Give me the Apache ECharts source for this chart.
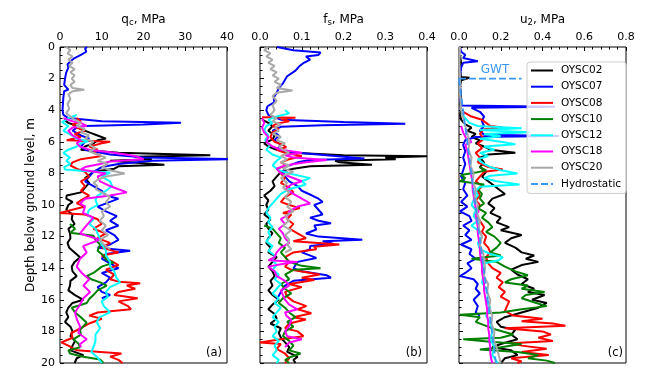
<!DOCTYPE html>
<html>
<head>
<meta charset="utf-8">
<script src="https://cdn.jsdelivr.net/npm/echarts@6/dist/echarts.min.js"></script>
<style>
  html, body { margin: 0; padding: 0; background: #fff; }
  #chart { width: 663px; height: 380px; }
</style>
</head>
<body>
<div id="chart"></div>
<script>
// data, every profile is [depth (m), value]
const sondes = ['OYSC02', 'OYSC07', 'OYSC08', 'OYSC10', 'OYSC12', 'OYSC18', 'OYSC20']
const colors = ['#000000', '#0000ff', '#ff0000', '#008000', '#00ffff', '#ff00ff', '#a9a9a9']
const depthTicks = [0, 2, 4, 6, 8, 10, 12, 14, 16, 18, 20]

// cone resistance qc, MPa
const qc02 = [[4.6,1],[4.8,2],[5.0,4],[5.2,5],[5.4,7],[5.6,9],[5.8,11],[5.9,9],[6.1,8],[6.3,6],[6.5,5],[6.7,14],[6.85,36],[6.95,18],[7.1,22],[7.2,12],[7.35,20],[7.45,25],[7.55,14],[7.7,13],[7.9,8],[8.1,7],[8.3,6],[8.6,7],[8.9,6],[9.2,5],[9.4,1.6],[9.6,1.5],[9.8,3],[10.0,2],[10.3,1.5],[10.6,3],[10.9,2.8],[11.2,3.5],[11.5,2],[11.8,2.4],[12.1,2.5],[12.4,1.8],[12.7,2.2],[13.0,3.5],[13.3,4.8],[13.6,3.5],[13.9,2.8],[14.2,3],[14.5,4],[14.8,2.5],[15.1,2.4],[15.4,2],[15.7,3.6],[16.0,5.6],[16.2,3],[16.5,2],[16.8,1.5],[17.1,2],[17.4,1.2],[17.7,2.5],[18.0,3],[18.3,2.5],[18.6,3.6],[18.9,3],[19.2,2.5],[19.5,5.6],[19.7,4],[20.0,3.5]]
const qc07 = [[0,6.5],[0.1,6],[0.3,6.3],[0.5,5],[0.7,3.5],[0.9,2.5],[1.1,1.8],[1.3,2],[1.6,1.5],[2.0,1.2],[2.4,1],[2.7,2],[2.8,1],[3.2,0.8],[3.6,0.7],[4.0,0.6],[4.3,0.8],[4.5,2],[4.7,10],[4.8,29],[4.9,20],[5.0,6],[5.1,4],[5.3,3],[5.6,5],[5.8,7],[6.0,6],[6.3,5],[6.5,6],[6.8,12],[7.0,20],[7.1,42],[7.2,22],[7.4,14],[7.6,10],[7.9,8],[8.2,7],[8.5,6],[8.8,8],[9.1,10],[9.4,11],[9.6,14],[9.8,12],[10.1,9],[10.4,11],[10.7,13.6],[11.0,12],[11.3,14],[11.6,11],[11.9,13],[12.2,14],[12.5,12],[12.7,9],[12.9,16.8],[13.1,11],[13.4,10],[13.7,12],[14.0,14],[14.3,10],[14.6,12],[14.9,11],[15.2,9],[15.5,10],[15.7,12],[15.9,10]]
const qc08 = [[4.5,4],[4.7,5],[4.9,3],[5.1,4],[5.3,6],[5.5,3.5],[5.7,5],[5.9,1.6],[6.0,12],[6.1,10],[6.3,7],[6.5,9],[6.7,8],[6.9,10],[7.1,5],[7.3,3],[7.5,2.5],[7.7,4],[7.9,6],[8.2,7],[8.5,5],[8.8,6],[9.1,5],[9.4,7],[9.7,5],[9.9,4],[10.1,6],[10.5,0],[10.6,6],[10.9,9],[11.2,10],[11.5,8],[11.8,11],[12.1,9],[12.4,12],[12.7,10],[13.0,14],[13.2,10],[13.5,12],[13.8,14],[14.1,11],[14.4,13],[14.7,12],[14.85,14],[14.95,19.2],[15.1,16],[15.3,18],[15.5,14],[15.7,13],[15.9,18.6],[16.1,14],[16.4,16.3],[16.6,17],[16.8,9],[17.0,7],[17.2,10],[17.5,7],[17.8,5],[18.1,2.7],[18.4,3],[18.7,0.3],[18.9,2],[19.2,4],[19.4,14.7],[19.6,12],[19.8,14],[20,15]]
const qc10 = [[11.2,2.4],[11.5,3.6],[11.75,2.5],[11.95,8],[12.2,8.5],[12.5,9.6],[12.9,9],[13.2,10.4],[13.45,11],[13.65,12.8],[13.9,10],[14.3,8],[14.5,6.4],[14.7,7.5],[14.9,9.6],[15.1,11.2],[15.4,9],[15.7,8],[15.95,7],[16.2,6.4],[16.5,2.8],[16.8,3.6],[17.1,5],[17.45,6.4],[17.7,5.5],[17.9,4.8],[18.2,5],[18.5,3.2],[18.8,4.5],[19.0,4.8],[19.2,2],[19.4,2.4],[19.6,5.6],[19.78,9.6],[20,10.4]]
const qc12 = [[4.3,4],[4.5,2],[4.75,0.5],[5.0,2],[5.3,0.8],[5.6,2.8],[5.8,4],[5.96,6.8],[6.1,5],[6.3,4],[6.5,2],[6.7,0.8],[7.0,2.4],[7.2,1.5],[7.4,2.5],[7.6,1],[7.75,1.2],[7.85,6],[7.95,12],[8.2,10],[8.5,12],[8.8,12.5],[9.1,11],[9.4,9],[9.7,8.5],[10.0,9],[10.3,7],[10.6,6.5],[10.9,8],[11.2,7],[11.5,8.5],[11.8,9],[12.1,9.5],[12.5,10],[12.9,11],[13.2,11],[13.6,12],[13.9,12],[14.2,13],[14.6,13.5],[14.9,14.4],[15.2,12],[15.5,11],[15.8,11.5],[16.1,10],[16.4,10.5],[16.8,12],[17.1,9.5],[17.4,8.8],[17.8,9.6],[18.2,8.5],[18.6,8.5],[19.0,8],[19.3,7.5],[19.6,8.8],[20,10]]
const qc18 = [[4.5,0.8],[4.7,3],[4.8,5],[5.0,6.4],[5.1,3],[5.3,2],[5.6,3],[5.9,5],[6.1,4],[6.3,4.8],[6.5,7],[6.7,13],[6.9,18],[7.1,20],[7.25,12],[7.4,9.6],[7.6,6],[7.75,5],[8.0,11],[8.2,9],[8.5,9.6],[8.8,12],[9.0,14],[9.2,16],[9.4,12],[9.6,6],[9.9,4.8],[10.1,6],[10.5,5.5],[10.8,8],[11.1,7],[11.4,6],[11.8,4.8],[12.2,9.5],[12.6,5.5],[13.0,6.4],[13.4,4.8],[13.9,4],[14.3,5.2],[14.7,7],[15.1,5.6],[15.5,7.2],[15.9,5.6],[16.3,4.8],[16.8,3.6],[17.2,4],[17.7,4.8],[18.1,4.4],[18.5,6.4],[18.8,4.8],[19.0,5]]
const qc20 = [[0,1.5],[0.2,2.5],[0.4,1.8],[0.6,3],[0.8,2],[1.0,3],[1.2,2.2],[1.4,3.5],[1.6,2.5],[1.8,3.5],[2.0,2.8],[2.2,3.5],[2.4,2.5],[2.6,3],[2.7,5.8],[2.8,3],[3.0,2],[3.3,2.5],[3.6,1.8],[3.9,2.2],[4.2,1.5],[4.4,2.5],[4.6,3.5],[4.8,5],[5.0,4],[5.2,6],[5.4,5],[5.6,7],[5.8,6],[6.0,8],[6.2,7],[6.4,8.5],[6.6,7],[6.8,9],[7.0,11],[7.2,9],[7.4,11.5],[7.6,10],[7.8,12],[8.0,15.5],[8.2,11],[8.4,9],[8.6,8],[8.8,9],[9.0,8.5],[9.2,10],[9.5,12],[9.8,11],[10.1,12],[10.4,10],[10.7,10.5],[11.0,9.5],[11.3,11],[11.6,10],[11.9,11.5],[12.2,9.5],[12.5,10.5],[12.8,12]]

// sleeve friction fs, MPa
const fs02 = [[4.6,0.005],[4.8,0.02],[5.0,0.03],[5.3,0.02],[5.6,0.035],[5.85,0.03],[6.1,0.01],[6.3,0.02],[6.5,0.04],[6.7,0.08],[6.85,0.2],[6.92,0.4],[7.0,0.3],[7.1,0.325],[7.2,0.18],[7.3,0.19],[7.45,0.268],[7.55,0.12],[7.7,0.08],[7.9,0.05],[8.2,0.04],[8.5,0.03],[8.8,0.035],[9.1,0.025],[9.4,0.01],[9.7,0.02],[10.0,0.015],[10.3,0.02],[10.6,0.01],[10.9,0.025],[11.2,0.015],[11.5,0.02],[11.8,0.03],[12.1,0.02],[12.4,0.015],[12.7,0.025],[13.0,0.02],[13.3,0.04],[13.6,0.03],[13.9,0.02],[14.2,0.03],[14.5,0.035],[14.8,0.025],[15.1,0.03],[15.4,0.02],[15.7,0.03],[16.0,0.045],[16.3,0.03],[16.6,0.02],[16.9,0.035],[17.2,0.04],[17.5,0.025],[17.8,0.05],[18.1,0.045],[18.4,0.05],[18.7,0.06],[19.0,0.07],[19.3,0.065],[19.6,0.09],[19.8,0.08],[20,0.085]]
const fs07 = [[0,0.041],[0.2,0.08],[0.35,0.145],[0.5,0.14],[0.6,0.11],[0.8,0.12],[1.0,0.105],[1.2,0.095],[1.5,0.085],[1.85,0.065],[2.3,0.055],[2.6,0.045],[2.9,0.04],[3.2,0.033],[3.5,0.034],[3.75,0.018],[4.0,0.015],[4.3,0.02],[4.6,0.05],[4.75,0.2],[4.85,0.348],[4.95,0.15],[5.05,0.05],[5.3,0.03],[5.6,0.045],[5.9,0.035],[6.2,0.05],[6.5,0.04],[6.7,0.09],[6.9,0.18],[7.05,0.25],[7.15,0.12],[7.3,0.09],[7.6,0.06],[7.9,0.055],[8.2,0.06],[8.5,0.07],[8.8,0.09],[9.1,0.1],[9.4,0.125],[9.6,0.14],[9.8,0.15],[10.0,0.13],[10.3,0.14],[10.6,0.15],[10.8,0.12],[11.0,0.14],[11.15,0.17],[11.3,0.13],[11.55,0.135],[11.8,0.11],[12.0,0.14],[12.2,0.245],[12.3,0.15],[12.45,0.175],[12.6,0.12],[12.8,0.12],[13.0,0.1],[13.35,0.135],[13.6,0.09],[14.0,0.08],[14.2,0.1],[14.45,0.16],[14.6,0.17],[14.8,0.08],[15.1,0.06],[15.5,0.05],[16.0,0.04]]
const fs08 = [[4.45,0.005],[4.47,0.085],[4.55,0.05],[4.7,0.07],[4.85,0.04],[5.0,0.03],[5.2,0.045],[5.4,0.03],[5.7,0.025],[6.0,0.035],[6.2,0.055],[6.35,0.063],[6.5,0.04],[6.7,0.06],[6.9,0.1],[7.1,0.07],[7.3,0.05],[7.5,0.065],[7.7,0.04],[8.0,0.05],[8.3,0.06],[8.6,0.05],[8.9,0.07],[9.2,0.08],[9.5,0.06],[9.8,0.05],[10.0,0.07],[10.2,0.095],[10.5,0.055],[10.6,0.075],[10.9,0.065],[11.2,0.08],[11.5,0.07],[11.8,0.09],[12.1,0.11],[12.3,0.08],[12.5,0.19],[12.65,0.13],[12.8,0.135],[13.0,0.08],[13.3,0.06],[13.6,0.07],[13.9,0.06],[14.1,0.075],[14.4,0.143],[14.6,0.1],[14.75,0.13],[15.0,0.07],[15.2,0.1],[15.5,0.06],[15.8,0.065],[16.1,0.08],[16.4,0.111],[16.6,0.09],[16.85,0.123],[17.1,0.08],[17.25,0.11],[17.5,0.07],[17.8,0.06],[18.0,0.09],[18.3,0.104],[18.5,0.05],[18.7,0.0],[18.8,0.05],[19.1,0.04],[19.4,0.06],[19.7,0.07],[20,0.06]]
const fs10 = [[11.3,0.01],[11.5,0.03],[11.8,0.04],[12.1,0.05],[12.4,0.045],[12.7,0.06],[13.0,0.05],[13.3,0.06],[13.6,0.07],[13.85,0.1],[14.0,0.145],[14.1,0.08],[14.4,0.06],[14.7,0.07],[15.0,0.05],[15.3,0.06],[15.6,0.075],[15.9,0.055],[16.2,0.045],[16.5,0.06],[16.8,0.07],[17.1,0.085],[17.4,0.065],[17.7,0.08],[18.0,0.06],[18.3,0.055],[18.6,0.07],[18.9,0.08],[19.2,0.07],[19.4,0.097],[19.6,0.075],[19.8,0.06],[20,0.07]]
const fs12 = [[4.0,0.06],[4.2,0.07],[4.4,0.04],[4.6,0.02],[4.8,0.03],[5.0,0.015],[5.3,0.01],[5.6,0.02],[5.9,0.012],[6.2,0.025],[6.5,0.015],[6.8,0.03],[7.0,0.05],[7.2,0.04],[7.5,0.03],[7.8,0.045],[8.0,0.07],[8.3,0.12],[8.5,0.1],[8.7,0.11],[9.0,0.07],[9.3,0.05],[9.6,0.04],[9.9,0.03],[10.2,0.02],[10.5,0.015],[10.8,0.025],[11.1,0.02],[11.4,0.03],[11.7,0.02],[12.0,0.025],[12.3,0.015],[12.6,0.03],[12.9,0.02],[13.2,0.035],[13.5,0.03],[13.8,0.04],[14.1,0.03],[14.4,0.045],[14.7,0.035],[15.0,0.05],[15.3,0.04],[15.6,0.03],[15.9,0.045],[16.2,0.035],[16.5,0.05],[16.8,0.04],[17.1,0.03],[17.4,0.045],[17.7,0.035],[18.0,0.04],[18.3,0.03],[18.6,0.045],[18.9,0.035],[19.2,0.04],[19.5,0.03],[19.8,0.045],[20,0.04]]
const fs18 = [[4.5,0.005],[4.8,0.01],[5.1,0.005],[5.4,0.01],[5.7,0.02],[6.0,0.015],[6.3,0.03],[6.5,0.05],[6.7,0.1],[6.85,0.06],[7.0,0.08],[7.15,0.16],[7.3,0.11],[7.5,0.06],[7.7,0.04],[8.0,0.05],[8.2,0.07],[8.5,0.1],[8.7,0.075],[9.0,0.06],[9.3,0.08],[9.6,0.1],[9.9,0.12],[10.1,0.09],[10.4,0.07],[10.6,0.07],[10.9,0.05],[11.2,0.06],[11.5,0.045],[11.8,0.055],[12.1,0.06],[12.4,0.07],[12.7,0.05],[13.0,0.04],[13.3,0.035],[13.5,0.02],[13.6,0.09],[13.75,0.05],[13.9,0.02],[14.2,0.035],[14.5,0.04],[14.8,0.06],[15.1,0.07],[15.4,0.05],[15.7,0.055],[16.0,0.06],[16.3,0.07],[16.6,0.09],[16.8,0.06],[17.0,0.063],[17.3,0.075],[17.65,0.07],[18.0,0.06],[18.3,0.065],[18.5,0.1],[18.7,0.07],[19.0,0.06]]
const fs20 = [[0,0.02],[0.2,0.01],[0.4,0.025],[0.6,0.015],[0.8,0.03],[1.0,0.02],[1.2,0.035],[1.4,0.025],[1.6,0.04],[1.8,0.03],[2.0,0.045],[2.2,0.035],[2.4,0.05],[2.6,0.04],[2.75,0.078],[2.9,0.04],[3.1,0.03],[3.4,0.04],[3.7,0.03],[4.0,0.035],[4.3,0.025],[4.5,0.04],[4.7,0.03],[4.9,0.05],[5.1,0.035],[5.3,0.045],[5.5,0.03],[5.7,0.05],[5.9,0.04],[6.1,0.06],[6.3,0.045],[6.5,0.055],[6.7,0.07],[6.9,0.05],[7.1,0.065],[7.3,0.05],[7.5,0.07],[7.7,0.055],[7.9,0.08],[8.1,0.06],[8.3,0.05],[8.6,0.065],[8.9,0.055],[9.2,0.07],[9.5,0.06],[9.8,0.075],[10.1,0.065],[10.4,0.08],[10.7,0.06],[11.0,0.07],[11.3,0.055],[11.6,0.075],[11.9,0.06],[12.2,0.07],[12.5,0.065],[12.8,0.075],[13.0,0.06]]

// pore pressure u2, MPa
const u02 = [[0.5,0.005],[1.0,0.01],[1.5,0.005],[1.9,0.01],[1.95,0.05],[2.05,0.05],[2.1,0.01],[2.5,0.005],[3.0,0.01],[3.5,0.005],[4.0,0.01],[4.3,0.005],[4.6,0.01],[4.9,0.03],[5.1,0.06],[5.3,0.04],[5.5,0.08],[5.7,0.06],[5.9,0.1],[6.1,0.08],[6.3,0.12],[6.5,0.15],[6.7,0.27],[6.8,0.14],[7.0,0.1],[7.3,0.12],[7.6,0.1],[7.9,0.13],[8.2,0.11],[8.5,0.14],[8.8,0.17],[9.0,0.19],[9.3,0.22],[9.6,0.16],[9.9,0.14],[10.2,0.17],[10.5,0.15],[10.8,0.2],[11.1,0.18],[11.4,0.24],[11.6,0.2],[11.9,0.3],[12.1,0.25],[12.4,0.22],[12.7,0.27],[13.0,0.3],[13.2,0.36],[13.4,0.32],[13.6,0.38],[13.8,0.3],[14.1,0.25],[14.4,0.28],[14.7,0.33],[15.0,0.3],[15.3,0.36],[15.5,0.33],[15.7,0.41],[16.0,0.35],[16.2,0.42],[16.5,0.38],[16.8,0.3],[17.1,0.22],[17.4,0.18],[17.7,0.2],[17.9,0.27],[18.2,0.25],[18.5,0.28],[18.8,0.2],[19.0,0.16],[19.2,0.25],[19.5,0.28],[19.7,0.22],[20,0.2]]
const u07 = [[0,0.005],[0.3,0.01],[0.5,0.03],[0.7,0.02],[0.9,0.09],[1.0,0.02],[1.3,0.01],[1.8,0.005],[2.5,0.005],[3.2,0.005],[3.7,0.01],[3.78,0.46],[3.85,0.06],[4.1,0.1],[4.4,0.12],[4.7,0.11],[5.0,0.12],[5.3,0.1],[5.55,0.12],[5.63,0.48],[5.7,0.08],[5.9,0.03],[6.2,0.02],[6.6,0.03],[7.0,0.02],[7.4,0.03],[7.8,0.02],[8.2,0.01],[8.6,0.03],[9.0,0.02],[9.4,0.04],[9.8,0.01],[10.1,0.04],[10.4,0.005],[10.7,0.05],[11.0,0.06],[11.3,0.02],[11.6,0.05],[11.9,0.03],[12.2,0.06],[12.5,0.01],[12.8,0.06],[13.1,0.05],[13.4,0.08],[13.7,0.04],[14.0,0.06],[14.3,0.03],[14.5,0.005],[14.7,0.07],[15.0,0.09],[15.3,0.08],[15.6,0.1],[16.0,0.07],[16.4,0.09],[16.8,0.08],[17.0,0.1]]
const u08 = [[4.1,0.02],[4.4,0.06],[4.6,0.11],[4.8,0.13],[5.0,0.15],[5.1,0.21],[5.2,0.12],[5.5,0.1],[5.8,0.12],[6.1,0.09],[6.4,0.11],[6.7,0.08],[7.0,0.1],[7.3,0.09],[7.6,0.14],[7.75,0.21],[7.9,0.12],[8.2,0.1],[8.5,0.08],[8.8,0.11],[9.1,0.09],[9.4,0.1],[9.7,0.08],[10.0,0.1],[10.3,0.08],[10.7,0.09],[11.0,0.1],[11.4,0.12],[11.7,0.11],[12.0,0.13],[12.4,0.12],[12.7,0.14],[13.0,0.15],[13.3,0.13],[13.7,0.14],[14.0,0.16],[14.3,0.2],[14.6,0.18],[14.9,0.21],[15.2,0.19],[15.5,0.22],[15.8,0.2],[16.1,0.24],[16.4,0.23],[16.7,0.22],[17.0,0.26],[17.2,0.4],[17.35,0.3],[17.5,0.45],[17.65,0.51],[17.8,0.22],[18.0,0.4],[18.2,0.44],[18.4,0.38],[18.6,0.45],[18.75,0.25],[18.9,0.3],[19.1,0.42],[19.3,0.3],[19.5,0.43],[19.7,0.25],[19.9,0.3],[20,0.28]]
const u10 = [[7.6,0.1],[7.8,0.13],[7.95,0.08],[8.1,0.01],[8.3,0.03],[8.5,0.005],[8.7,0.12],[9.0,0.09],[9.3,0.11],[9.6,0.1],[9.9,0.12],[10.2,0.09],[10.5,0.13],[10.8,0.11],[11.1,0.14],[11.4,0.16],[11.7,0.13],[12.0,0.17],[12.4,0.2],[12.7,0.18],[13.0,0.15],[13.2,0.2],[13.4,0.06],[13.6,0.18],[13.9,0.22],[14.2,0.27],[14.45,0.33],[14.7,0.25],[14.9,0.22],[15.1,0.33],[15.3,0.3],[15.5,0.41],[15.7,0.32],[15.9,0.3],[16.2,0.37],[16.4,0.42],[16.6,0.3],[16.8,0.2],[16.95,0.005],[17.1,0.1],[17.4,0.08],[17.6,0.12],[17.9,0.18],[18.2,0.26],[18.4,0.2],[18.5,0.02],[18.65,0.15],[18.8,0.3],[19.0,0.2],[19.15,0.1],[19.3,0.28],[19.5,0.38],[19.7,0.33],[19.85,0.42],[20,0.46]]
const u12 = [[4.2,0.01],[4.5,0.03],[4.8,0.05],[5.0,0.09],[5.15,0.3],[5.25,0.1],[5.4,0.34],[5.5,0.12],[5.65,0.2],[5.8,0.1],[6.0,0.2],[6.15,0.27],[6.3,0.12],[6.5,0.17],[6.7,0.1],[6.9,0.14],[7.1,0.09],[7.4,0.12],[7.6,0.15],[7.8,0.2],[8.0,0.28],[8.15,0.15],[8.3,0.12],[8.5,0.18],[8.7,0.29],[8.85,0.1],[9.1,0.08],[9.4,0.09],[9.7,0.07],[10.0,0.06],[10.3,0.08],[10.7,0.07],[11.0,0.09],[11.3,0.06],[11.7,0.1],[12.0,0.11],[12.4,0.09],[12.8,0.1],[13.1,0.15],[13.3,0.21],[13.5,0.19],[13.7,0.12],[14.0,0.11],[14.4,0.12],[14.9,0.11],[15.3,0.13],[15.7,0.14],[16.1,0.13],[16.5,0.15],[17.0,0.13],[17.5,0.15],[18.0,0.16],[18.5,0.15],[19.0,0.17],[19.5,0.16],[20,0.185]]
const u18 = [[5.0,0.01],[5.4,0.02],[5.8,0.035],[6.0,0.06],[6.2,0.03],[6.6,0.04],[7.0,0.045],[7.4,0.05],[7.8,0.055],[8.2,0.06],[8.6,0.065],[9.0,0.065],[9.4,0.07],[9.8,0.075],[10.2,0.08],[10.4,0.095],[10.6,0.08],[11.0,0.085],[11.4,0.09],[11.8,0.09],[12.2,0.095],[12.6,0.1],[13.0,0.1],[13.4,0.105],[13.8,0.11],[14.2,0.11],[14.6,0.115],[15.0,0.12],[15.4,0.12],[15.8,0.125],[16.2,0.13],[16.6,0.135],[17.0,0.135],[17.4,0.14],[17.8,0.14],[18.2,0.145],[18.6,0.145],[19.0,0.15],[19.4,0.15],[19.8,0.155],[20,0.16]]
const u20 = [[0,0.005],[1,0.002],[2,0.005],[3,0.005],[4,0.01],[4.5,0.02],[5,0.03],[5.5,0.04],[6,0.05],[6.5,0.045],[7,0.06],[7.5,0.055],[8,0.07],[8.5,0.065],[9,0.08],[9.5,0.075],[10,0.09],[10.5,0.085],[11,0.1],[11.5,0.095],[12,0.11],[12.5,0.1],[13,0.115],[13.5,0.12],[14,0.125],[14.5,0.12],[15,0.14],[15.5,0.135],[16,0.15],[16.5,0.145],[17,0.16],[17.5,0.155],[18,0.17],[18.5,0.165],[19,0.18],[19.5,0.19],[20,0.2]]

// groundwater table and hydrostatic line
const hydroDepth = [2, 20]
const hydroU = [0, 0.177]
const gwtDepth = [2, 2]
const gwtU = [0, 0.3]

const qcAll = [qc02, qc07, qc08, qc10, qc12, qc18, qc20]
const fsAll = [fs02, fs07, fs08, fs10, fs12, fs18, fs20]
const uAll = [u02, u07, u08, u10, u12, u18, u20]

const font = 'DejaVu Sans'
const blueDash = '#3a98f5'
const grids = [
  { left: 60, top: 47, width: 167, height: 316 },
  { left: 260, top: 47, width: 167, height: 316 },
  { left: 459, top: 47, width: 167, height: 316 }
]
const xCfg = [
  { max: 40, interval: 10, fmt: v => v, name: '{a|q}{s|c}{a|, MPa}' },
  { max: 0.4, interval: 0.1, fmt: v => v.toFixed(1), name: '{a|f}{s|s}{a|, MPa}' },
  { max: 0.8, interval: 0.2, fmt: v => v.toFixed(1), name: '{a|u}{s|2}{a|, MPa}' }
]

const toXY = arr => arr.map(p => [p[1], p[0]])

var series = []
;[qcAll, fsAll, uAll].forEach((panel, g) => {
  panel.forEach((d, i) => {
    series.push({
      name: sondes[i], type: 'line', xAxisIndex: g, yAxisIndex: g,
      data: toXY(d), symbol: 'none', clip: true,
      lineStyle: { color: colors[i], width: 2 }, itemStyle: { color: colors[i] }
    })
  })
})
series.push({
  name: 'Hydrostatic', type: 'line', xAxisIndex: 2, yAxisIndex: 2, symbol: 'none',
  data: hydroDepth.map((d, i) => [hydroU[i], d]),
  lineStyle: { color: blueDash, width: 1.8, type: [7, 3] }, itemStyle: { color: blueDash }
})
series.push({
  name: 'GWT', type: 'line', xAxisIndex: 2, yAxisIndex: 2, symbol: 'none',
  data: gwtDepth.map((d, i) => [gwtU[i], d]),
  lineStyle: { color: blueDash, width: 1.8, type: [7, 3] }, itemStyle: { color: blueDash }
})

const option = {
  animation: false,
  textStyle: { fontFamily: font, color: '#000' },
  grid: grids.map(g => ({ ...g, show: true, borderColor: '#000', borderWidth: 1, backgroundColor: 'transparent' })),
  xAxis: xCfg.map((c, g) => ({
    type: 'value', gridIndex: g, position: 'top', min: 0, max: c.max, interval: c.interval,
    name: c.name, nameLocation: 'middle', nameGap: 19,
    nameTextStyle: { rich: { a: { fontFamily: font, fontSize: 12, color: '#000' }, s: { fontFamily: font, fontSize: 8.5, color: '#000', verticalAlign: 'bottom', padding: [5, 0, 0, 0] } } },
    axisLine: { show: false },
    axisTick: { show: true, inside: true, length: 4, lineStyle: { color: '#000' } },
    minorTick: { show: true, splitNumber: 5, length: 2.5, lineStyle: { color: '#000' } },
    axisLabel: { margin: 4, fontSize: 11, color: '#000', fontFamily: font, formatter: c.fmt },
    splitLine: { show: false }
  })),
  yAxis: grids.map((gr, g) => ({
    type: 'value', gridIndex: g, inverse: true, min: 0, max: 20, interval: 2,
    name: g == 0 ? 'Depth below ground level, m' : '', nameLocation: 'middle', nameGap: 23,
    nameTextStyle: { fontSize: 12, color: '#000', fontFamily: font },
    axisLine: { show: false },
    axisTick: { show: true, inside: true, length: 4, lineStyle: { color: '#000' } },
    minorTick: { show: true, splitNumber: 4, length: 2.5, lineStyle: { color: '#000' } },
    axisLabel: { show: g == 0, margin: 5, fontSize: 11, color: '#000', fontFamily: font,
      customValues: depthTicks },
    splitLine: { show: false }
  })),
  legend: {
    data: [...sondes, 'Hydrostatic'],
    orient: 'vertical', left: 527, top: 62,
    padding: [3, 5, 4, 3], itemWidth: 22, itemHeight: 10, itemGap: 5.2,
    backgroundColor: 'rgba(255,255,255,0.8)', borderColor: '#cccccc', borderWidth: 1, borderRadius: 3,
    itemStyle: { opacity: 0 },
    textStyle: { fontSize: 10.5, color: '#000', fontFamily: font, padding: [0, 0, 0, 3] }
  },
  graphic: [
    { type: 'text', x: 222, y: 353, style: { text: '(a)', font: '11.5px "DejaVu Sans"', fill: '#000', textAlign: 'right', textVerticalAlign: 'middle' } },
    { type: 'text', x: 422, y: 353, style: { text: '(b)', font: '11.5px "DejaVu Sans"', fill: '#000', textAlign: 'right', textVerticalAlign: 'middle' } },
    { type: 'text', x: 623, y: 353, style: { text: '(c)', font: '11.5px "DejaVu Sans"', fill: '#000', textAlign: 'right', textVerticalAlign: 'middle' } },
    { type: 'text', x: 495, y: 70, style: { text: 'GWT', font: '12px "DejaVu Sans"', fill: blueDash, textAlign: 'center', textVerticalAlign: 'middle' } }
  ],
  series: series
}

const chart = echarts.init(document.getElementById('chart'), null, { renderer: 'canvas' })
chart.setOption(option)
</script>
</body>
</html>
